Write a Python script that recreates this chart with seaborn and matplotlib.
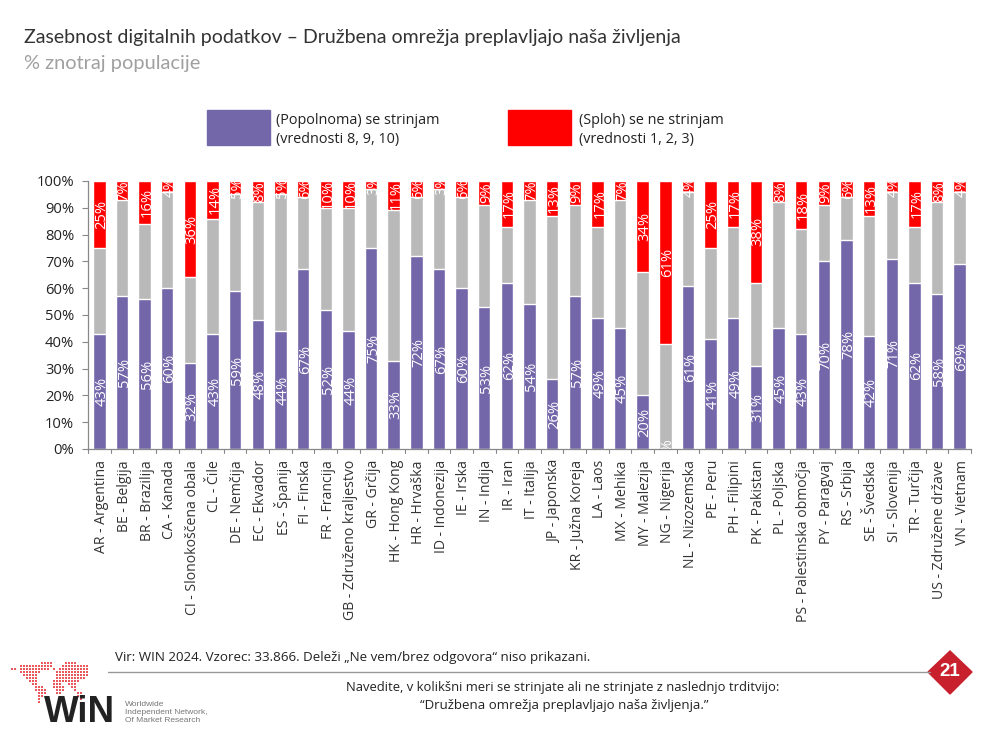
import matplotlib
matplotlib.use("Agg")
import matplotlib.pyplot as plt
from matplotlib.patches import Polygon, Rectangle
from matplotlib.lines import Line2D
from matplotlib.transforms import ScaledTranslation
import pandas as pd
import seaborn as sns

# ---------------------------------------------------------
# Data
# ---------------------------------------------------------

countries = [
    "AR - Argentina", "BE - Belgija", "BR - Brazilija", "CA - Kanada",
    "CI - Slonokoščena obala", "CL - Čile", "DE - Nemčija", "EC - Ekvador",
    "ES - Španija", "FI - Finska", "FR - Francija", "GB - Združeno kraljestvo",
    "GR - Grčija", "HK - Hong Kong", "HR - Hrvaška", "ID - Indonezija",
    "IE - Irska", "IN - Indija", "IR - Iran", "IT - Italija", "JP - Japonska",
    "KR - Južna Koreja", "LA - Laos", "MX - Mehika", "MY - Malezija",
    "NG - Nigerija", "NL - Nizozemska", "PE - Peru", "PH - Filipini",
    "PK - Pakistan", "PL - Poljska", "PS - Palestinska območja", "PY - Paragvaj",
    "RS - Srbija", "SE - Švedska", "SI - Slovenija", "TR - Turčija",
    "US - Združene države", "VN - Vietnam",
]
agree = [43, 57, 56, 60, 32, 43, 59, 48, 44, 67, 52, 44, 75, 33, 72, 67, 60, 53, 62, 54,
         26, 57, 49, 45, 20, 0, 61, 41, 49, 31, 45, 43, 70, 78, 42, 71, 62, 58, 69]
neutral = [32, 36, 28, 36, 32, 43, 36, 44, 51, 27, 38, 46, 22, 56, 22, 30, 34, 38, 21, 39,
           61, 34, 34, 48, 46, 39, 35, 34, 34, 31, 47, 39, 21, 16, 45, 25, 21, 34, 27]
disagree = [25, 7, 16, 4, 36, 14, 5, 8, 5, 6, 10, 10, 3, 11, 6, 3, 6, 9, 17, 7,
            13, 9, 17, 7, 34, 61, 4, 25, 17, 38, 8, 18, 9, 6, 13, 4, 17, 8, 4]
y_ticks = [0, 10, 20, 30, 40, 50, 60, 70, 80, 90, 100]

# logo map, one character per dot
logo_map = [
    "..........####....####.....",
    "...###########...#########.",
    "##.##########.#.##########.",
    "...#######.....###########.",
    "....#####......###########.",
    ".....####......##########..",
    "......###.....#########....",
    ".......##.....###..###.....",
    "........###...####..##.....",
    "........####...###...#.....",
    ".........###...##.....##...",
    ".........##...........###..",
    ".........#.............#...",
    ".........#.................",
]

PURPLE = "#7467A9"
GREY = "#B9B9B9"
RED = "#FF0000"
W, H = 986, 738

sns.set_style("white")
plt.rcParams["font.family"] = ["Open Sans", "DejaVu Sans"]


def fx(px):
    return px / W


def fy(py):
    return 1 - py / H


df = pd.DataFrame({"country": countries, "agree": agree, "neutral": neutral, "disagree": disagree})
df["upper"] = df["agree"] + df["neutral"]
df["total"] = df["upper"] + df["disagree"]

fig = plt.figure(figsize=(W / 100, H / 100), dpi=100, facecolor="white")
ax = fig.add_axes([fx(88), fy(449), fx(971) - fx(88), fy(181) - fy(449)])

# ---------------------------------------------------------
# Stacked bars, tallest first so each one sits on top
# ---------------------------------------------------------

for col, color in [("total", RED), ("upper", GREY), ("agree", PURPLE)]:
    sns.barplot(data=df, x="country", y=col, color=color, width=0.55,
                saturation=1, ax=ax, errorbar=None)

ax.set_xlim(-0.5, len(countries) - 0.5)
ax.set_ylim(0, 100)
ax.set_xlabel("")
ax.set_ylabel("")

ax.set_yticks(y_ticks)
ax.set_yticklabels([f"{v}%" for v in y_ticks], fontsize=10.6, color="#222222")
ax.set_xticks(range(len(countries)))
ax.set_xticklabels(countries, rotation=90, fontsize=10.1, color="#333333")
ax.tick_params(axis="x", length=0, pad=8)
ax.tick_params(axis="y", length=4, width=0.8, color="#888888", left=True, pad=6)

# rotated text sits a little left of the bar centre, nudge it back
nudge = ScaledTranslation(2.4 / 100, 0, fig.dpi_scale_trans)
for label in ax.get_xticklabels():
    label.set_transform(label.get_transform() + nudge)

# tick marks fall between the bars
for i in range(len(countries) + 1):
    ax.plot([i - 0.5, i - 0.5], [0, -1.4], color="#888888", lw=0.8, clip_on=False)

for side in ["top", "right"]:
    ax.spines[side].set_visible(False)
for side in ["left", "bottom"]:
    ax.spines[side].set_color("#888888")
    ax.spines[side].set_linewidth(0.9)

# ---------------------------------------------------------
# Value labels
# ---------------------------------------------------------

for i in range(len(countries)):
    ax.text(i, agree[i] / 2, f"{agree[i]}%", rotation=90, ha="center", va="center",
            color="white", fontsize=10.6, clip_on=True, transform=ax.transData + nudge)
    ax.text(i, agree[i] + neutral[i] + disagree[i] / 2, f"{disagree[i]}%", rotation=90,
            ha="center", va="center", color="white", fontsize=10.6, clip_on=True,
            transform=ax.transData + nudge)

# ---------------------------------------------------------
# Title and legend
# ---------------------------------------------------------

fig.text(fx(24), fy(37), "Zasebnost digitalnih podatkov – Družbena omrežja preplavljajo naša življenja",
         fontsize=14.05, color="#333333", family="Lato", va="center", ha="left")
fig.text(fx(24), fy(63), "% znotraj populacije", fontsize=14.4, color="#A0A0A0",
         family="Lato", va="center", ha="left")

fig.add_artist(Rectangle((fx(207), fy(145)), 63 / W, 35 / H, color=PURPLE, transform=fig.transFigure))
fig.add_artist(Rectangle((fx(508), fy(145)), 63 / W, 35 / H, color=RED, transform=fig.transFigure))
fig.text(fx(276), fy(120), "(Popolnoma) se strinjam", fontsize=10.35, color="#222222", va="center")
fig.text(fx(276), fy(140), "(vrednosti 8, 9, 10)", fontsize=10.35, color="#222222", va="center")
fig.text(fx(579), fy(120), "(Sploh) se ne strinjam", fontsize=10.35, color="#222222", va="center")
fig.text(fx(579), fy(140), "(vrednosti 1, 2, 3)", fontsize=10.35, color="#222222", va="center")

# ---------------------------------------------------------
# Footer
# ---------------------------------------------------------

fig.text(fx(115), fy(658), "Vir: WIN 2024. Vzorec: 33.866. Deleži „Ne vem/brez odgovora“ niso prikazani.",
         fontsize=9.6, color="#222222", va="center")
fig.text(fx(563), fy(687), "Navedite, v kolikšni meri se strinjate ali ne strinjate z naslednjo trditvijo:",
         fontsize=9.4, color="#222222", va="center", ha="center")
fig.text(fx(564), fy(705), "“Družbena omrežja preplavljajo naša življenja.”",
         fontsize=9.5, color="#222222", va="center", ha="center")

fig.add_artist(Line2D([fx(108), fx(930)], [fy(672), fy(672)], color="#999999", lw=1))
fig.add_artist(Polygon([(fx(950), fy(651)), (fx(972), fy(672)), (fx(950), fy(694)), (fx(928), fy(672))],
                       closed=True, color="#C8202D", transform=fig.transFigure))
fig.text(fx(950), fy(672), "21", fontsize=13.5, fontweight="bold", color="white",
         family="Liberation Sans", ha="center", va="center")

# logo
logo_ax = fig.add_axes([fx(10), fy(703), 82 / W, 42 / H])
logo_ax.axis("off")
dots_x = [c for row in logo_map for c, ch in enumerate(row) if ch == "#"]
dots_y = [r for r, row in enumerate(logo_map) for ch in row if ch == "#"]
logo_ax.scatter(dots_x, dots_y, marker="s", s=3.2, color="#E8585C", linewidths=0)
logo_ax.set_xlim(-0.5, len(logo_map[0]) - 0.5)
logo_ax.set_ylim(len(logo_map) - 0.5, -0.5)

fig.text(fx(44), fy(722), "WiN", fontsize=26.5, fontweight="bold", color="#222222",
         family="Liberation Sans", ha="left", va="baseline")
for py, line in [(704, "Worldwide"), (712, "Independent Network,"), (720, "Of Market Research")]:
    fig.text(fx(125), fy(py), line, fontsize=6, color="#777777",
             family="Liberation Sans", ha="left", va="center")

fig.savefig("out.png", dpi=100)
plt.close(fig)
